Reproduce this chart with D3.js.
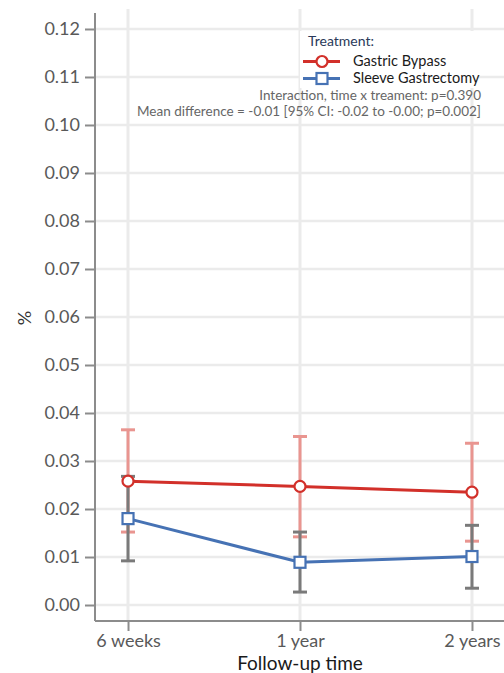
<!DOCTYPE html>
<html>
<head>
<meta charset="utf-8">
<script src="https://cdn.jsdelivr.net/npm/d3@7"></script>
<style>
  html, body { margin: 0; padding: 0; background: #fff; overflow: hidden; }
  svg { display: block; font-family: Lato, "Open Sans", sans-serif; }
</style>
</head>
<body>
<svg id="chart" width="504" height="673"></svg>
<script>
// ---- data ----
const timepoints = ["6 weeks", "1 year", "2 years"];
const bypassMean  = [0.0258, 0.0247, 0.0235];
const bypassLow   = [0.0152, 0.0142, 0.0133];
const bypassHigh  = [0.0365, 0.0351, 0.0337];
const sleeveMean  = [0.0180, 0.0089, 0.0101];
const sleeveLow   = [0.0092, 0.0027, 0.0035];
const sleeveHigh  = [0.0268, 0.0152, 0.0166];
const yTicks = [0, 0.01, 0.02, 0.03, 0.04, 0.05, 0.06, 0.07, 0.08, 0.09, 0.10, 0.11, 0.12];
const legendTitle = "Treatment:";
const seriesNames = ["Gastric Bypass", "Sleeve Gastrectomy"];
const note1 = "Interaction, time x treament: p=0.390";
const note2 = "Mean difference = -0.01 [95% CI: -0.02 to -0.00; p=0.002]";
const xTitle = "Follow-up time";
const yTitle = "%";

// ---- layout ----
const svg = d3.select("#chart");
const pLeft = 95, pRight = 505, pTop = 13, pBottom = 621;
const x = d3.scalePoint().domain(timepoints).range([pLeft, pRight]).padding(0.192);
const y = d3.scaleLinear().domain([-0.00333, 0.12333]).range([pBottom, pTop]);

const red = "#d2302a", redLight = "#e99590", blue = "#4672b4", grey = "#7a7a7a";
const gridCol = "#ebebeb", axisCol = "#8c8c8c";

// gridlines
svg.append("g").selectAll("line").data(yTicks).join("line")
  .attr("x1", pLeft).attr("x2", 504)
  .attr("y1", d => y(d)).attr("y2", d => y(d))
  .attr("stroke", gridCol).attr("stroke-width", 2.5);
svg.append("g").selectAll("line").data(timepoints).join("line")
  .attr("x1", d => x(d)).attr("x2", d => x(d))
  .attr("y1", pTop - 4).attr("y2", pBottom)
  .attr("stroke", gridCol).attr("stroke-width", 3);

// axes
const yAxis = svg.append("g").attr("transform", `translate(${pLeft},0)`)
  .call(d3.axisLeft(y).tickValues(yTicks).tickFormat(d3.format(".2f")).tickSize(10).tickPadding(5));
const xAxis = svg.append("g").attr("transform", `translate(0,${pBottom})`)
  .call(d3.axisBottom(x).tickSize(10).tickPadding(3));
[yAxis, xAxis].forEach(g => {
  g.select(".domain").attr("stroke", axisCol).attr("stroke-width", 2);
  g.selectAll(".tick line").attr("stroke", axisCol).attr("stroke-width", 2);
  g.selectAll(".tick text").attr("fill", "#595959").style("font-size", "18px").style("font-family", "Lato");
});
yAxis.select(".domain").attr("d", `M0,${pTop}V${pBottom}`);
xAxis.select(".domain").attr("d", `M${pLeft},0H504`);

// axis titles
svg.append("text").attr("x", 300).attr("y", 670).attr("text-anchor", "middle")
  .attr("fill", "#1a1a1a").style("font-size", "19px").text(xTitle);
svg.append("text").attr("transform", "translate(31,318) rotate(-90)").attr("text-anchor", "middle")
  .attr("fill", "#333").style("font-size", "18px").text(yTitle);

// error bars
function errorBars(low, high, color) {
  const g = svg.append("g").attr("stroke", color).attr("stroke-width", 3).attr("fill", "none");
  timepoints.forEach((t, i) => {
    const cx = x(t);
    g.append("line").attr("x1", cx).attr("x2", cx).attr("y1", y(low[i])).attr("y2", y(high[i]));
    g.append("line").attr("x1", cx - 7).attr("x2", cx + 7).attr("y1", y(low[i])).attr("y2", y(low[i]));
    g.append("line").attr("x1", cx - 7).attr("x2", cx + 7).attr("y1", y(high[i])).attr("y2", y(high[i]));
  });
}
errorBars(bypassLow, bypassHigh, redLight);
errorBars(sleeveLow, sleeveHigh, grey);

// lines
const line = d3.line().x((d, i) => x(timepoints[i])).y(d => y(d));
svg.append("path").datum(bypassMean).attr("d", line).attr("fill", "none").attr("stroke", red).attr("stroke-width", 3);
svg.append("path").datum(sleeveMean).attr("d", line).attr("fill", "none").attr("stroke", blue).attr("stroke-width", 3);

// markers
svg.append("g").selectAll("circle").data(bypassMean).join("circle")
  .attr("cx", (d, i) => x(timepoints[i])).attr("cy", d => y(d)).attr("r", 5.5)
  .attr("fill", "#fff").attr("stroke", red).attr("stroke-width", 2.2);
svg.append("g").selectAll("rect").data(sleeveMean).join("rect")
  .attr("x", (d, i) => x(timepoints[i]) - 5.5).attr("y", d => y(d) - 5.5)
  .attr("width", 11).attr("height", 11)
  .attr("fill", "#fff").attr("stroke", blue).attr("stroke-width", 2.2);

// legend
const lg = svg.append("g");
lg.append("rect").attr("x", 300).attr("y", 31).attr("width", 177).attr("height", 57).attr("fill", "#fff");
lg.append("text").attr("x", 308).attr("y", 46).attr("fill", "#2a3a5a").style("font-size", "14px").text(legendTitle);
const legCols = [red, blue];
seriesNames.forEach((n, i) => {
  const ly = 61.5 + i * 17;
  lg.append("line").attr("x1", 303).attr("x2", 340).attr("y1", ly).attr("y2", ly)
    .attr("stroke", legCols[i]).attr("stroke-width", 3);
  if (i === 0) {
    lg.append("circle").attr("cx", 322).attr("cy", ly).attr("r", 5.5)
      .attr("fill", "#fff").attr("stroke", red).attr("stroke-width", 2.2);
  } else {
    lg.append("rect").attr("x", 316.5).attr("y", ly - 5.5).attr("width", 11).attr("height", 11)
      .attr("fill", "#fff").attr("stroke", blue).attr("stroke-width", 2.2);
  }
  lg.append("text").attr("x", 353).attr("y", ly + 4.5).attr("fill", "#1a1a1a")
    .style("font-size", "14.5px").text(n);
});
svg.append("text").attr("x", 481).attr("y", 99.5).attr("text-anchor", "end")
  .attr("fill", "#666").style("font-size", "13.5px").text(note1);
svg.append("text").attr("x", 481).attr("y", 116).attr("text-anchor", "end")
  .attr("fill", "#666").style("font-size", "13.5px").text(note2);
</script>
</body>
</html>
